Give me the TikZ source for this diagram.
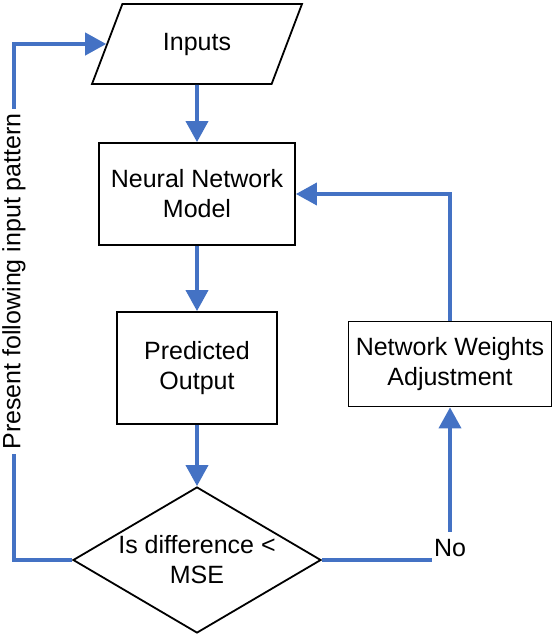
\documentclass[tikz,border=0pt]{standalone}
\usepackage{fontspec}
\setmainfont{Liberation Sans}
\usetikzlibrary{shapes.geometric}
\usetikzlibrary{positioning}
\usetikzlibrary{arrows.meta}

\begin{document}
\begin{tikzpicture}[x=1pt,y=1pt,
	flow/.style={draw=flowblue,line width=3.8pt,-{Triangle[width=22pt,length=21pt]}},
	main node/.style={rectangle,draw,line width=1.8pt,align=center,inner sep=4pt,
		font=\fontsize{25}{30}\selectfont},
	io node/.style={main node,trapezium,trapezium left angle=63,
		trapezium right angle=117,trapezium stretches=true},
	dec node/.style={main node,diamond,inner sep=0pt,shape aspect=1.7},
	tag/.style={fill=white,font=\fontsize{25}{30}\selectfont}]
	
	\definecolor{flowblue}{RGB}{68,114,196}
	\path[use as bounding box,fill=white] (0,0) rectangle (553,-635);
	
	\node[io node, minimum width=210pt, minimum height=80pt] (in) at (197,-44) {Inputs};
	\node[main node, minimum width=196pt, minimum height=102pt] (nn) [node distance=150pt, below of=in] {Neural Network\\Model};
	\node[main node, minimum width=160pt, minimum height=112pt] (po) [node distance=174pt, below of=nn] {Predicted\\Output};
	\node[dec node, minimum width=248pt, minimum height=146pt] (dec) [node distance=192pt, below of=po] {Is difference <\\MSE};
	\node[main node, minimum width=203pt, minimum height=85pt] (nwa) [node distance=253pt, right of=po, yshift=4pt] {Network Weights\\Adjustment};
	\coordinate (lft) at (14,-560);
	
	\draw[flow] (in) -- (nn);
	\draw[flow] (nn) -- (po);
	\draw[flow] (po) -- (dec);
	\draw[flow] (dec.east) -| node[tag, pos=0.5, yshift=12pt, inner xsep=2pt, inner ysep=7pt] {No} (nwa.south);
	\draw[flow] (nwa.north) |- (nn.east);
	\draw[flow] (dec.west) -- (lft) |- node[tag, pos=0.27, rotate=90, inner xsep=4pt, inner ysep=0pt] {Present following input pattern} (in.west);
\end{tikzpicture}
\end{document}
